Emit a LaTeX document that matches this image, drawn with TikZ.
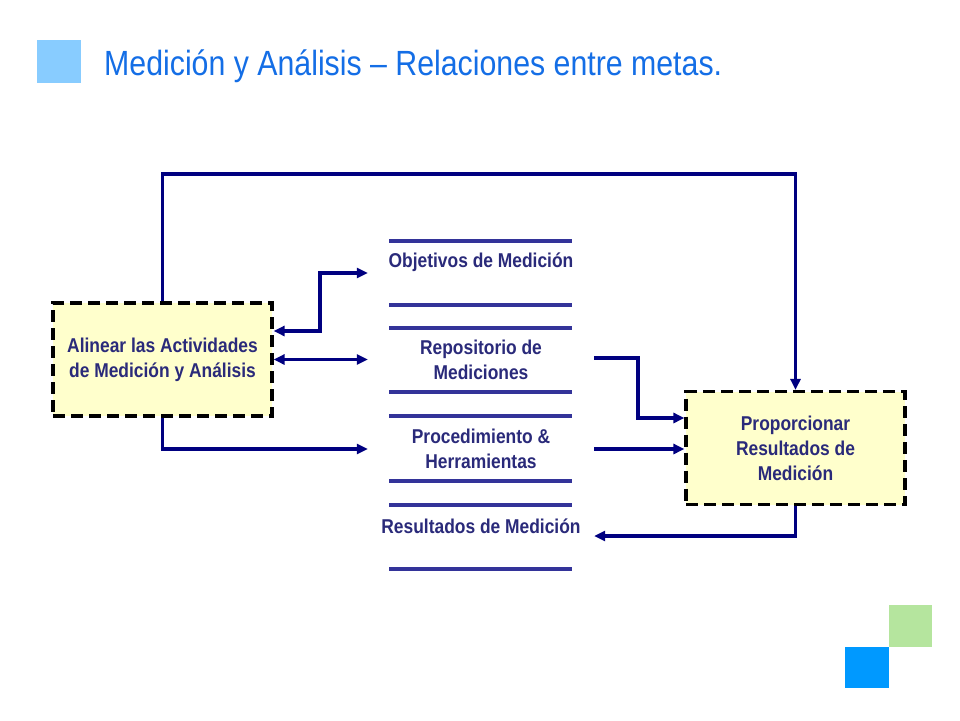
\documentclass[tikz,border=0pt]{standalone}
\usepackage{fontspec}
\setmainfont{Liberation Sans}
\usetikzlibrary{arrows.meta}
\definecolor{navy}{RGB}{0,0,128}
\definecolor{txtc}{RGB}{42,42,122}
\definecolor{sepc}{RGB}{51,51,153}
\definecolor{titlec}{RGB}{20,110,230}
\definecolor{boxfill}{RGB}{255,255,204}
\definecolor{sqlight}{RGB}{136,204,255}
\definecolor{sqgreen}{RGB}{181,229,158}
\definecolor{sqblue}{RGB}{0,153,255}
\newcommand{\nx}[1]{\scalebox{0.87}[1]{#1}}
\tikzset{
  goalbox/.style={draw=black, fill=boxfill, line width=3.2pt, dash pattern=on 12pt off 6pt,
    minimum width=219pt, minimum height=113pt, inner sep=0pt, text=txtc,
    align=center, font=\fontsize{20}{25}\selectfont\bfseries},
  block/.style={minimum width=226pt, inner sep=0pt, text=txtc, align=center,
    font=\fontsize{20}{25}\selectfont\bfseries},
  sepline/.style={draw=sepc, line width=3.4pt},
  conn/.style={draw=navy, line width=3.2pt},
  tipr/.style={-{Triangle[length=11pt,width=10pt]}},
  tipb/.style={{Triangle[length=11pt,width=10pt]}-{Triangle[length=11pt,width=10pt]}},
}
\begin{document}
\begin{tikzpicture}[x=1pt,y=-1pt]
\useasboundingbox[fill=white] (0,0) rectangle (960,720);
% decorative squares
\fill[sqlight] (37,40) rectangle (81,83);
\fill[sqgreen] (889,605) rectangle (932,647);
\fill[sqblue] (845,647) rectangle (889,688);
% title
\node[anchor=base west, inner sep=0pt, text=titlec, font=\fontsize{35}{42}\selectfont] (title) at (104,75)
  {\resizebox{618pt}{\height}{Medición y Análisis – Relaciones entre metas.}};
% goal boxes
\node[goalbox] (A) at (162.5,359.5) {\nx{Alinear las Actividades}\\\nx{de Medición y Análisis}};
\node[goalbox] (B) at (795.5,448) {\nx{Proporcionar}\\\nx{Resultados de}\\\nx{Medición}};
% central work products
\node[block] (obj) at (481,262) {\nx{Objetivos de Medición}};
\node[block] (rep) at (481,360) {\nx{Repositorio de}\\\nx{Mediciones}};
\node[block] (proc) at (481,449) {\nx{Procedimiento \&}\\\nx{Herramientas}};
\node[block] (res) at (481,526) {\nx{Resultados de Medición}};
% separator lines
\foreach \yy in {241,305,328,392,416,481,505,569}
  \draw[sepline] (389,\yy) -- (572,\yy);
% connectors
\coordinate (top) at (0,174);
\draw[conn,tipr] (A.north) -- (A.north |- top) -- (B.north |- top) -- (B.north);
\coordinate (c2) at (320,331);
\draw[conn,tipb] (A.east |- c2) -- (c2) |- ([yshift=-11pt]obj.west);
\draw[conn,tipb] (A.east) -- (A.east -| rep.west);
\draw[conn,tipr] (A.south) |- (proc.west);
\coordinate (c5) at (638,418);
\draw[conn,tipr] ([yshift=2pt]rep.east) -| (c5) -- (c5 -| B.west);
\draw[conn,tipr] (proc.east) -- (proc.east -| B.west);
\draw[conn,tipr] (B.south) |- ([yshift=-10pt]res.east);
\end{tikzpicture}
\end{document}
